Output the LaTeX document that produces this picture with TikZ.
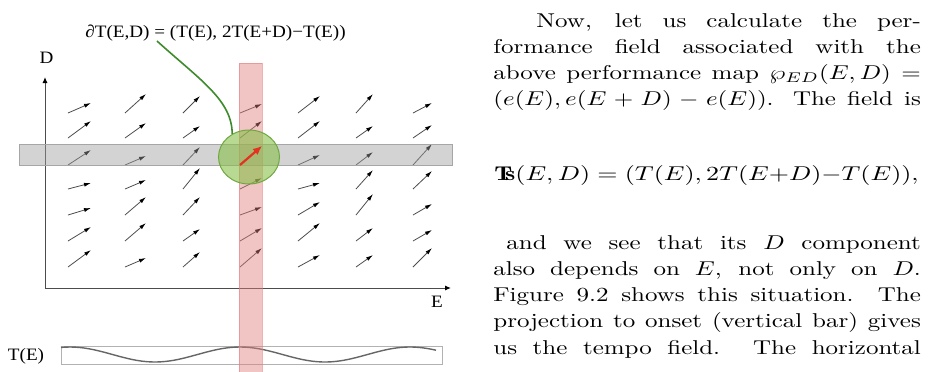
\documentclass[tikz,border=0pt]{standalone}
\usepackage{fontspec}
\usepackage{amsmath}
\usepackage{graphicx}
\usetikzlibrary{arrows.meta, shapes.geometric, positioning}
\newfontfamily\figfont{Liberation Serif}
\definecolor{barGray}{HTML}{9D9D9D}
\definecolor{barPink}{HTML}{E27E7E}
\definecolor{focusGreen}{HTML}{87C048}
\definecolor{focusEdge}{HTML}{6FA843}
\definecolor{leaderGreen}{HTML}{3E8B2C}
\definecolor{tangentRed}{HTML}{E3321F}
\newcommand{\figtxt}[1]{\scalebox{1.1}[1]{\figfont\fontsize{8.7}{10}\selectfont #1}}
\newcommand{\pagetxt}[2]{\scalebox{1.25}[1]{\parbox[t]{#1}{\fontsize{10}{13.15}\selectfont\parindent=0pt\parfillskip=0pt #2}}}

\begin{document}
\begin{tikzpicture}[
    x=0.5pt, y=-0.5pt,
    fieldarrow/.style={draw=black!70, line width=0.4pt, -{Latex[length=3.5pt, width=2pt, color=black]}},
    axis/.style={draw=black!70, line width=0.5pt, -{Latex[length=3pt, width=2.5pt, color=black]}},
    groundbar/.style={fill=barGray, fill opacity=0.45, draw=black!35, line width=0.5pt},
    onsetbar/.style={fill=barPink, fill opacity=0.45, draw=barPink, draw opacity=0.6, line width=0.5pt},
    focus/.style={ellipse, draw=focusEdge, fill=focusGreen, fill opacity=0.6, minimum width=30.5pt, minimum height=27pt, inner sep=0pt, line width=0.5pt},
    tangent/.style={draw=tangentRed, line width=1.1pt, -{Latex[length=4.5pt, width=4pt]}},
    leader/.style={draw=leaderGreen, line width=0.8pt},
    tempobox/.style={draw=black!30, line width=0.4pt, minimum width=190.5pt, minimum height=9pt, inner sep=0pt},
    tempocurve/.style={draw=black!60, line width=0.7pt},
    figlabel/.style={inner sep=0pt},
]
    \useasboundingbox (0,0) rectangle (928,371);

    % tempo curve T(E)
    \node[tempobox] (tempoBox) at (251.5,355) {};
    \draw[tempocurve] plot[domain=61:436, samples=80] (\x, {354.5-7.5*cos(2.1176*(\x-70))});
    \node[figlabel] (tLabel) at (26,356) {\figtxt{T(E)}};

    % axes
    \coordinate (origin) at (45,288);
    \coordinate (dTip) at (45,77);
    \coordinate (eTip) at (451,288);
    \draw[axis] (origin) -- (dTip);
    \draw[axis] (origin) -- (eTip);
    \node[figlabel] (dLabel) at (46.5,57.5) {\figtxt{D}};
    \node[figlabel] (eLabel) at (437,302) {\figtxt{E}};

    % performance field
    \foreach \ty/\dA/\dB/\dC/\dD/\dE/\dF/\dG in {113/10/19/17/9/17/19/10, 138/17/15/12/17/17/12/13,
        165/15/9/18/19/10/13/21, 189/6/9/21/11/6/19/18, 215/7/18/18/8/13/21/11,
        241/14/18/12/13/18/13/11, 267/17/9/15/19/12/12/19}
      \foreach \cx/\dx/\dy in {68/23/\dA, 125/21/\dB, 183/17/\dC, 240/22/\dD, 298/22/\dE, 356/17/\dF, 413/19/\dG}
        \draw[fieldarrow] (\cx,\ty) -- ++(\dx,-\dy);

    % projections
    \draw[groundbar] (19,144) rectangle (452,165);
    \draw[onsetbar] (239,63) rectangle (262,380);

    % focus point
    \node[focus] (focus) at (249,157) {};
    \coordinate (tangentTail) at (240,165);
    \coordinate (tangentHead) at (262,146);
    \draw[tangent] (tangentTail) -- (tangentHead);

    \node[figlabel, anchor=base west] (perfLabel) at (85,37) {\figtxt{∂T(E,D) = (T(E), 2T(E+D)−T(E))}};
    \coordinate (labelFoot) at (157,41);
    \draw[leader] (labelFoot) .. controls (200,80) and (232,100) .. (focus.126);

    % running text
    \node[figlabel, anchor=base west] (introPar) at (493,27) {\pagetxt{171pt}{\hspace*{17.2pt}Now, let us calculate the per-\linebreak
        formance field associated with the\linebreak
        above performance map $\wp_{ED}(E,D) =$\linebreak
        $(e(E), e(E+D)-e(E))$. The field is\par}};
    \node[figlabel, anchor=base west] (fieldEq) at (494,180) {\scalebox{1.3}[1]{$\mathbf{T}\mkern-5mu\mathbf{s}(E,D) = (T(E), 2T(E{+}D){-}T(E)),$}};
    \node[figlabel, anchor=base west] (outroPar) at (493,249) {\pagetxt{171pt}{\hspace*{5.2pt}and we see that its $D$ component\linebreak
        also depends on $E$, not only on $D$.\linebreak
        Figure 9.2 shows this situation. The\linebreak
        projection to onset (vertical bar) gives\linebreak
        us the tempo field. The horizontal\par}};
\end{tikzpicture}
\end{document}
